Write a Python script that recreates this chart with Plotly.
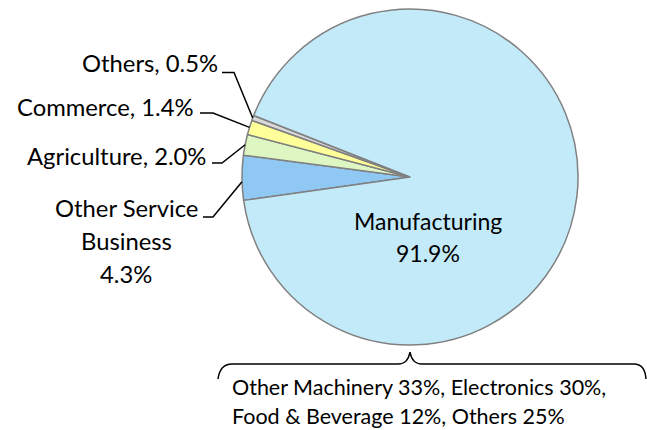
import math
import plotly.graph_objects as go

# ---- data ----
categories = ["Other Service Business", "Agriculture", "Commerce", "Others", "Manufacturing"]
shares = [4.3, 2.0, 1.4, 0.5, 91.9]
colors = ["#8EC8F3", "#DDF6C2", "#FFFF99", "#D9D9D9", "#C3EAF9"]
label_lines = [["Other Service", "Business", "4.3%"], ["Agriculture, 2.0%"], ["Commerce, 1.4%"],
               ["Others, 0.5%"], ["Manufacturing", "91.9%"]]
breakdown_lines = ["Other Machinery 33%, Electronics 30%,", "Food & Beverage 12%, Others 25%"]

W, H = 647, 430
CX, CY, R = 410, 177, 168
ROT = 262
FONT = "Lato"
FS = 23.8


def px(x):
    return x / W


def py(y):
    return 1 - y / H


fig = go.Figure(go.Pie(
    labels=categories, values=shares, sort=False, direction="clockwise", rotation=ROT,
    marker=dict(colors=colors, line=dict(color="#808080", width=1.5)),
    textinfo="none", hoverinfo="label+percent",
    domain=dict(x=[px(CX - R), px(CX + R)], y=[py(CY + R), py(CY - R)]),
))

total = sum(shares)
cum = 0
anchors = []
for v in shares:
    mid = math.radians(ROT + 360 * (cum + v / 2) / total)
    anchors.append((CX + R * math.sin(mid), CY - R * math.cos(mid)))
    cum += v

shapes = []
annotations = []

# outside labels: (index, label right end x, label centre y, elbow start x, elbow end x, elbow y)
outside = [
    (3, 220, 63, 222, 234, 72.5),
    (2, 196, 107, 200, 213, 113),
    (1, 208, 156, 212, 222, 163),
]
for i, xr, yc, ex0, ex1, ey in outside:
    ax, ay = anchors[i]
    shapes.append(dict(type="path", xref="paper", yref="paper",
                       path=f"M {px(ex0)},{py(ey)} L {px(ex1)},{py(ey)} L {px(ax)},{py(ay)}",
                       line=dict(color="black", width=1.5)))
    annotations.append(dict(x=px(xr), y=py(yc), xref="paper", yref="paper", text=label_lines[i][0],
                            xanchor="right", yanchor="middle", showarrow=False,
                            font=dict(family=FONT, size=FS, color="black")))

# Other Service Business label (3 lines)
ax, ay = anchors[0]
shapes.append(dict(type="path", xref="paper", yref="paper",
                   path=f"M {px(203)},{py(217)} L {px(213)},{py(217)} L {px(ax)},{py(ay + 4)}",
                   line=dict(color="black", width=1.5)))
for line, yc in zip(label_lines[0], [208, 241, 274]):
    annotations.append(dict(x=px(126), y=py(yc), xref="paper", yref="paper", text=line,
                            xanchor="center", yanchor="middle", showarrow=False,
                            font=dict(family=FONT, size=FS, color="black")))

# Manufacturing label inside
for line, yc in zip(label_lines[4], [221, 253]):
    annotations.append(dict(x=px(428), y=py(yc), xref="paper", yref="paper", text=line,
                            xanchor="center", yanchor="middle", showarrow=False,
                            font=dict(family=FONT, size=23, color="black")))

# brace under the pie
bx0, bx1, by, tipx, tipy = 218, 646, 364, 410, 352
brace = (f"M {px(bx0)},{py(379)} Q {px(bx0 + 2)},{py(by)} {px(bx0 + 14)},{py(by)} "
         f"L {px(tipx - 12)},{py(by)} Q {px(tipx - 2)},{py(by)} {px(tipx)},{py(tipy)} "
         f"Q {px(tipx + 2)},{py(by)} {px(tipx + 12)},{py(by)} "
         f"L {px(bx1 - 12)},{py(by)} Q {px(bx1 - 1)},{py(by)} {px(bx1)},{py(379)}")
shapes.append(dict(type="path", xref="paper", yref="paper", path=brace,
                   line=dict(color="black", width=1.5)))

for line, yc in zip(breakdown_lines, [387, 415.5]):
    annotations.append(dict(x=px(230), y=py(yc), xref="paper", yref="paper", text=line,
                            xanchor="left", yanchor="middle", showarrow=False,
                            font=dict(family=FONT, size=21.5, color="black")))

fig.update_layout(
    width=W, height=H, margin=dict(l=0, r=0, t=0, b=0),
    paper_bgcolor="white", plot_bgcolor="white", showlegend=False,
    shapes=shapes, annotations=annotations,
)

fig.write_html("out.html", config={"displayModeBar": False},
               post_script="document.body.style.margin='0px';document.body.style.overflow='hidden';")
